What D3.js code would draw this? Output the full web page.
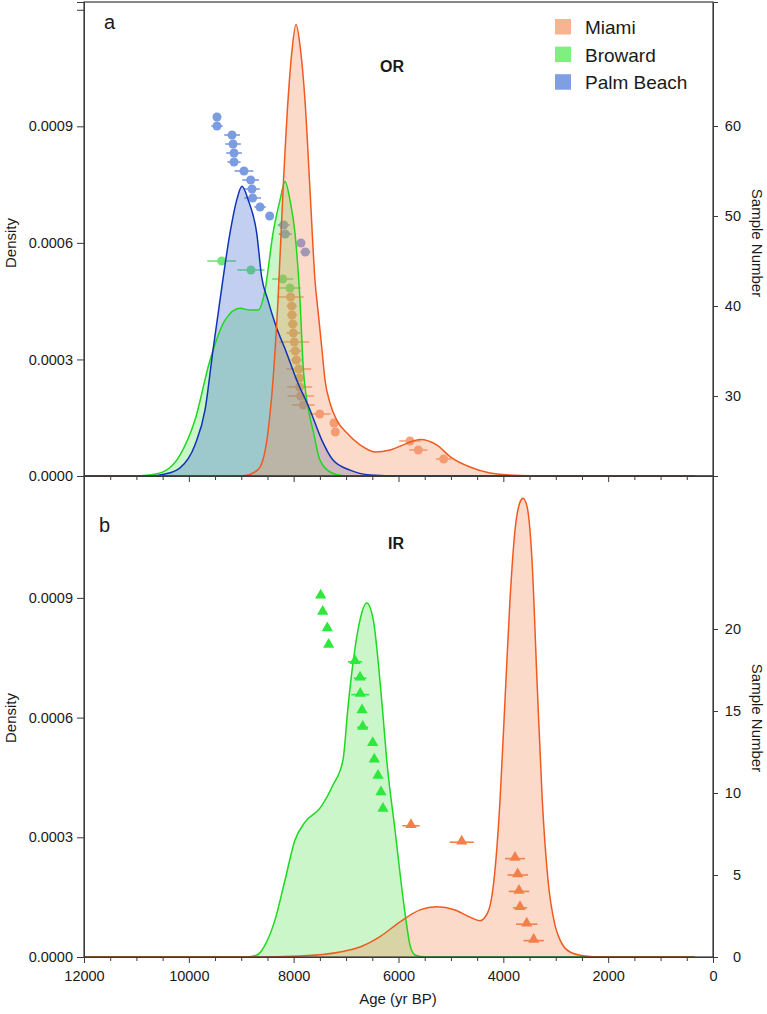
<!DOCTYPE html>
<html><head><meta charset="utf-8">
<script src="https://cdn.jsdelivr.net/npm/d3@7"></script>
<style>
body{margin:0;background:#fff;}
svg{display:block;font-family:"Liberation Sans",Arial,sans-serif;}
</style></head>
<body><svg id="c" width="767" height="1014"></svg>
<script>
// ---------- DATA ----------
const sites = ["Miami", "Broward", "Palm Beach"];
const xTicks = [12000, 10000, 8000, 6000, 4000, 2000, 0];
const densTicks = [0, 0.0003, 0.0006, 0.0009, 0.0012];
const sampleTicksA = [30, 40, 50, 60];
const sampleTicksB = [0, 5, 10, 15, 20];

// Panel a (OR) density curves
const aMiamiAge = [12000, 9215, 8928, 8776, 8642, 8490, 8394, 8299, 8203, 8108, 8032, 7955, 7879, 7784, 7688, 7593, 7530, 7465, 7402, 7307, 7179, 6988, 6734, 6448, 6162, 5843, 5590, 5271, 5017, 4636, 4254, 3682, 2919, 350];
const aMiamiDen = [0, 0, 1.3e-6, 7.7e-6, 2.3e-5, 1.13e-4, 2.47e-4, 4.52e-4, 7.35e-4, 9.67e-4, 1.095e-3, 1.162e-3, 1.108e-3, 9.67e-4, 7.35e-4, 5.04e-4, 4.18e-4, 3.32e-4, 2.47e-4, 1.88e-4, 1.44e-4, 1.11e-4, 8.0e-5, 6.2e-5, 6.7e-5, 8.4e-5, 9.4e-5, 8.0e-5, 5.0e-5, 2.3e-5, 7.7e-6, 1.3e-6, 0, 0];
const aBrowardAge = [12000, 11122, 10741, 10455, 10169, 9883, 9596, 9310, 9024, 8833, 8681, 8547, 8394, 8261, 8165, 8070, 7975, 7879, 7822, 7727, 7631, 7498, 7269, 7021, 350];
const aBrowardDen = [0, 0, 2.6e-6, 1.3e-5, 5.4e-5, 1.44e-4, 2.98e-4, 4.01e-4, 4.32e-4, 4.27e-4, 4.27e-4, 4.78e-4, 6.25e-4, 7.10e-4, 7.58e-4, 7.10e-4, 6.25e-4, 4.52e-4, 2.9e-4, 1.77e-4, 1.18e-4, 4.1e-5, 7.7e-6, 0, 0];
const aPalmAge = [12000, 10741, 10455, 10169, 9883, 9691, 9539, 9406, 9215, 9087, 8986, 8866, 8705, 8610, 8490, 8356, 8133, 7942, 7688, 7465, 7250, 6925, 6544, 5971, 350];
const aPalmDen = [0, 0, 5e-6, 2.1e-5, 8.0e-5, 1.70e-4, 3.24e-4, 4.52e-4, 6.25e-4, 7.10e-4, 7.46e-4, 7.10e-4, 6.25e-4, 5.12e-4, 4.52e-4, 3.93e-4, 3.16e-4, 2.47e-4, 1.70e-4, 9.3e-5, 4.1e-5, 1.5e-5, 2.6e-6, 0, 0];

// Panel a (OR) dated samples
const aPalmSample = [61, 60, 59, 58, 57, 56, 55, 54, 53, 52, 51, 50, 49, 48, 47, 46];
const aPalmPtAge = [9463, 9463, 9176, 9157, 9138, 9138, 8948, 8820, 8795, 8782, 8642, 8457, 8190, 8160, 7860, 7778];
const aPalmErr = [40, 110, 150, 150, 150, 125, 180, 160, 150, 160, 110, 75, 115, 125, 75, 95];
const aBrowardSample = [45, 44, 43, 42];
const aBrowardPtAge = [9373, 8814, 8209, 8070];
const aBrowardErr = [275, 260, 200, 210];
const aMiamiSample = [41, 40, 39, 38, 37, 36, 35, 34, 33, 32, 31, 30, 29, 28, 27, 26, 25, 24, 23];
const aMiamiPtAge = [8057, 8037, 8032, 8018, 8007, 7988, 7969, 7950, 7904, 7893, 7885, 7866, 7816, 7503, 7231, 7206, 5781, 5622, 5138];
const aMiamiErr = [250, 95, 95, 95, 135, 285, 115, 105, 240, 95, 240, 250, 220, 205, 60, 60, 205, 175, 150];

// Panel b (IR) density curves
const bBrowardAge = [12000, 8900, 8700, 8547, 8356, 8165, 7975, 7784, 7498, 7250, 7059, 6963, 6868, 6734, 6607, 6481, 6385, 6309, 6225, 6068, 5876, 5781, 5685, 5494, 350];
const bBrowardDen = [0, 0, 5e-6, 3.0e-5, 9.3e-5, 1.93e-4, 2.93e-4, 3.38e-4, 3.73e-4, 4.31e-4, 4.94e-4, 6.27e-4, 7.37e-4, 8.45e-4, 8.87e-4, 8.45e-4, 7.37e-4, 6.27e-4, 4.94e-4, 3.2e-4, 1.10e-4, 3.0e-5, 5e-6, 0, 0];
const bMiamiAge = [12000, 8833, 7879, 7116, 6734, 6353, 5971, 5590, 5271, 4922, 4636, 4445, 4292, 4159, 4063, 3968, 3873, 3777, 3682, 3625, 3549, 3453, 3358, 3257, 3148, 3015, 2919, 2728, 2442, 2156, 350];
const bMiamiDen = [0, 0, 2.5e-6, 1.25e-5, 2.5e-5, 5.1e-5, 8.8e-5, 1.18e-4, 1.26e-4, 1.18e-4, 1.0e-4, 9.1e-5, 1.13e-4, 2.18e-4, 3.93e-4, 6.44e-4, 8.95e-4, 1.07e-3, 1.14e-3, 1.15e-3, 1.13e-3, 9.95e-4, 6.94e-4, 3.93e-4, 1.93e-4, 8.0e-5, 4.3e-5, 1.25e-5, 2.5e-6, 0, 0];

// Panel b (IR) dated samples
const bBrowardSample = [22, 21, 20, 19, 18, 17, 16, 15, 14, 13, 12, 11, 10, 9];
const bBrowardPtAge = [7484, 7446, 7358, 7332, 6830, 6734, 6729, 6696, 6683, 6492, 6462, 6391, 6334, 6296];
const bBrowardErr = [40, 40, 40, 40, 135, 120, 170, 75, 105, 75, 75, 60, 60, 60];
const bMiamiSample = [8, 7, 6, 5, 4, 3, 2, 1];
const bMiamiPtAge = [5762, 4794, 3777, 3726, 3701, 3682, 3554, 3421];
const bMiamiErr = [165, 230, 190, 195, 195, 135, 205, 195];

// ---------- STYLE ----------
const col = {
  Miami:   {line:"#f05a1e", fill:"rgb(245,140,90)", fo:0.32, pt:"#f5a27c", ptB:"#f3804b", leg:"#f9b391"},
  Broward: {line:"#1fd81f", fill:"rgb(60,220,60)",  fo:0.27, pt:"#6fe77a", ptB:"#2ee83c", leg:"#7fef7f"},
  Palm:    {line:"#1034b8", fill:"rgb(70,110,210)", fo:0.33, pt:"#7b9ce0", ptB:"#7b9ce0", leg:"#7f9fe3"}
};
const L = 84, R = 713;
const aTop = 2, aBot = 476, bTop = 476, bBot = 957;
const axisCol = "#3a3a3a", textCol = "#1a1a1a";

const svg = d3.select("#c");
const x = d3.scaleLinear().domain([12000, 0]).range([L, R]);
const yA = d3.scaleLinear().domain([0, 0.00122]).range([aBot, aTop]);
const yB = d3.scaleLinear().domain([0, 0.0012055]).range([bBot, bTop]);
const sA = d3.scaleLinear().domain([21.11, 73.78]).range([aBot, aTop]);
const sB = d3.scaleLinear().domain([0, 29.33]).range([bBot, bTop]);

svg.append("defs").selectAll("clipPath").data([["ca", aTop, aBot], ["cb", bTop, bBot]]).join("clipPath")
  .attr("id", d => d[0]).append("rect")
  .attr("x", L).attr("y", d => d[1]).attr("width", R - L).attr("height", d => d[2] - d[1]);

function zip(a, b) { return a.map((v, i) => [v, b[i]]); }

function drawPoints(g, ages, samples, errs, sScale, color, shape) {
  const pts = ages.map((a, i) => ({a, s: samples[i], e: errs[i]}));
  g.selectAll(null).data(pts).join("line")
    .attr("x1", d => x(d.a + d.e)).attr("x2", d => x(d.a - d.e))
    .attr("y1", d => sScale(d.s)).attr("y2", d => sScale(d.s))
    .attr("stroke", color).attr("stroke-width", 1.6);
  if (shape === "circle") {
    g.selectAll(null).data(pts).join("circle")
      .attr("cx", d => x(d.a)).attr("cy", d => sScale(d.s)).attr("r", 4.5)
      .attr("fill", color);
  } else {
    const tri = d3.symbol().type(d3.symbolTriangle).size(55);
    g.selectAll(null).data(pts).join("path")
      .attr("d", tri).attr("transform", d => `translate(${x(d.a)},${sScale(d.s) - 1})`)
      .attr("fill", color);
  }
}

function drawCurve(g, ages, dens, yScale, c) {
  const data = zip(ages, dens);
  const area = d3.area().x(d => x(d[0])).y0(yScale(0)).y1(d => yScale(d[1])).curve(d3.curveMonotoneX);
  const line = d3.line().x(d => x(d[0])).y(d => yScale(d[1])).curve(d3.curveMonotoneX);
  g.append("path").datum(data).attr("d", area).attr("fill", c.fill).attr("fill-opacity", c.fo);
  return () => g.append("path").datum(data).attr("d", line).attr("fill", "none")
    .attr("stroke", c.line).attr("stroke-width", 1.5);
}

// ---------- PANEL A ----------
const gA = svg.append("g").attr("clip-path", "url(#ca)");
drawPoints(gA, aPalmPtAge, aPalmSample, aPalmErr, sA, col.Palm.pt, "circle");
drawPoints(gA, aBrowardPtAge, aBrowardSample, aBrowardErr, sA, col.Broward.pt, "circle");
drawPoints(gA, aMiamiPtAge, aMiamiSample, aMiamiErr, sA, col.Miami.pt, "circle");
const la1 = drawCurve(gA, aBrowardAge, aBrowardDen, yA, col.Broward);
const la2 = drawCurve(gA, aPalmAge, aPalmDen, yA, col.Palm);
const la3 = drawCurve(gA, aMiamiAge, aMiamiDen, yA, col.Miami);
la1(); la2(); la3();

// ---------- PANEL B ----------
const gB = svg.append("g").attr("clip-path", "url(#cb)");
const lb1 = drawCurve(gB, bBrowardAge, bBrowardDen, yB, col.Broward);
const lb2 = drawCurve(gB, bMiamiAge, bMiamiDen, yB, col.Miami);
lb1(); lb2();
drawPoints(gB, bBrowardPtAge, bBrowardSample, bBrowardErr, sB, col.Broward.ptB, "tri");
drawPoints(gB, bMiamiPtAge, bMiamiSample, bMiamiErr, sB, col.Miami.ptB, "tri");

// ---------- AXES ----------
function styleAxis(g) {
  g.selectAll("path.domain").attr("stroke", axisCol);
  g.selectAll(".tick line").attr("stroke", axisCol);
  g.selectAll(".tick text").attr("fill", textCol).style("font-size", "14.5px");
}
// frames
[[aTop, aBot], [bTop, bBot]].forEach(([t, b]) => {
  svg.append("rect").attr("x", L).attr("y", t).attr("width", R - L).attr("height", b - t)
    .attr("fill", "none").attr("stroke", axisCol).attr("stroke-width", 1.2);
});
// left density axes
const fmt = d3.format(".4f");
const axLA = svg.append("g").attr("transform", `translate(${L},0)`)
  .call(d3.axisLeft(yA).tickValues(densTicks).tickSize(7).tickPadding(4).tickFormat(d => d > 0.0011 ? "" : fmt(d)));
styleAxis(axLA);
const axLB = svg.append("g").attr("transform", `translate(${L},0)`)
  .call(d3.axisLeft(yB).tickValues(densTicks.slice(0, 4)).tickSize(7).tickPadding(4).tickFormat(fmt));
styleAxis(axLB);
// right sample axes
const axRA = svg.append("g").attr("transform", `translate(${R},0)`)
  .call(d3.axisRight(sA).tickValues(sampleTicksA).tickSize(5).tickPadding(6));
styleAxis(axRA);
const axRB = svg.append("g").attr("transform", `translate(${R},0)`)
  .call(d3.axisRight(sB).tickValues(sampleTicksB).tickSize(5).tickPadding(6));
styleAxis(axRB);
[axRA, axRB].forEach(g => g.selectAll(".tick text").attr("text-anchor", "end").attr("x", 28));
// bottom axes: minor + major
const minor = d3.range(0, 12001, 500).filter(v => v % 2000 !== 0);
[aBot, bBot].forEach((yy, i) => {
  const gm = svg.append("g").attr("transform", `translate(0,${yy})`)
    .call(d3.axisBottom(x).tickValues(minor).tickSize(4).tickFormat(""));
  styleAxis(gm);
  gm.select("path.domain").remove();
  const gM = svg.append("g").attr("transform", `translate(0,${yy})`)
    .call(d3.axisBottom(x).tickValues(xTicks).tickSize(6).tickPadding(8).tickFormat(i === 1 ? d3.format("d") : ""));
  styleAxis(gM);
});

// ---------- LABELS ----------
const txt = (xx, yy, s, size, opts = {}) => svg.append("text").attr("x", xx).attr("y", yy)
  .attr("fill", textCol).style("font-size", size + "px")
  .attr("text-anchor", opts.anchor || "start").attr("font-weight", opts.bold ? "bold" : null).text(s);
txt(104, 29, "a", 20);
txt(99, 532, "b", 20);
txt(392, 72, "OR", 16, {anchor: "middle", bold: true});
txt(396, 549, "IR", 16, {anchor: "middle", bold: true});
txt(398, 1004, "Age (yr BP)", 15, {anchor: "middle"});
[[243], [718]].forEach(([cy]) => {
  svg.append("text").attr("transform", `translate(16,${cy}) rotate(-90)`).attr("text-anchor", "middle")
    .attr("fill", textCol).style("font-size", "15px").text("Density");
  svg.append("text").attr("transform", `translate(752,${cy}) rotate(90)`).attr("text-anchor", "middle")
    .attr("fill", textCol).style("font-size", "15px").text("Sample Number");
});

// legend
const legColors = [col.Miami.leg, col.Broward.leg, col.Palm.leg];
const lg = svg.append("g");
sites.forEach((s, i) => {
  lg.append("rect").attr("x", 555).attr("y", 19 + i * 27.6).attr("width", 16).attr("height", 15.5).attr("fill", legColors[i]);
  lg.append("text").attr("x", 585).attr("y", 34 + i * 27.6).attr("fill", textCol)
    .style("font-size", "19px").text(s);
});
</script></body></html>
